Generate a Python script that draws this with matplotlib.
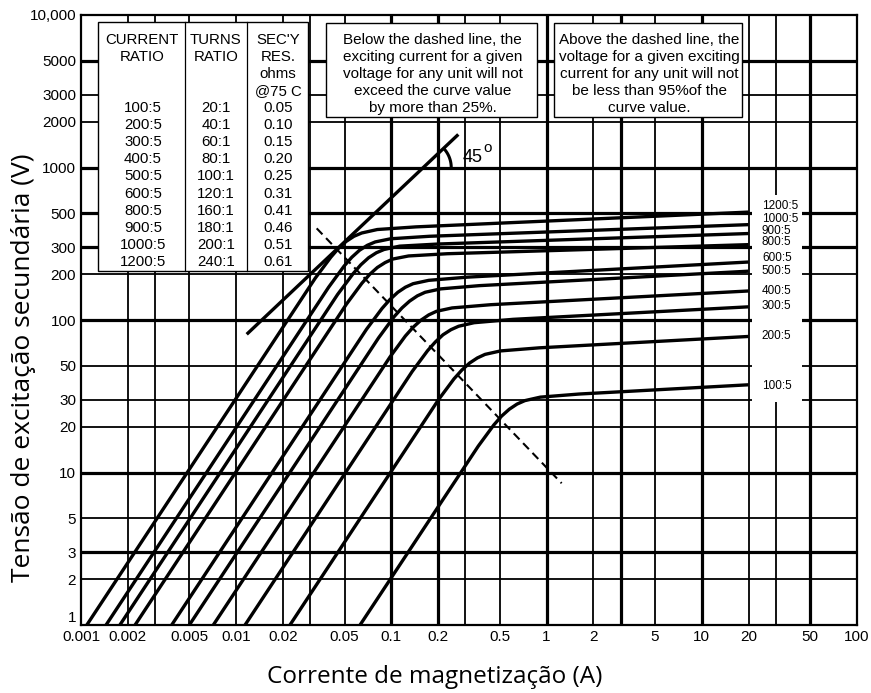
import numpy as np
import matplotlib
matplotlib.use('Agg')
import matplotlib.pyplot as plt
from matplotlib.patches import Rectangle

plt.rcParams['font.family'] = ['Liberation Sans', 'DejaVu Sans']

#%% curve values (current A, voltage V)
ratios = ['1200:5', '1000:5', '900:5', '800:5', '600:5',
          '500:5', '400:5', '300:5', '200:5', '100:5']

i_1200 = [0.00109, 0.0323, 0.0407, 0.0456, 0.0512, 0.0574, 0.0644, 0.0811, 0.144, 20]
v_1200 = [1, 188, 258, 295, 328, 354, 372, 392, 408, 510]
i_1000 = [0.00145, 0.0394, 0.0496, 0.0556, 0.0624, 0.0700, 0.0786, 0.0990, 0.176, 20]
v_1000 = [1, 164, 226, 258, 287, 309, 325, 341, 354, 422]
i_900 = [0.00178, 0.0450, 0.0566, 0.0635, 0.0713, 0.0800, 0.0897, 0.113, 0.201, 20]
v_900 = [1, 147, 201, 230, 256, 276, 290, 305, 315, 369]
i_800 = [0.00223, 0.0513, 0.0645, 0.0724, 0.0812, 0.0911, 0.102, 0.129, 0.229, 20]
v_800 = [1, 127, 174, 199, 221, 238, 251, 263, 272, 312]
i_600 = [0.00384, 0.0691, 0.0870, 0.0977, 0.110, 0.123, 0.138, 0.174, 0.309, 20]
v_600 = [1, 86.9, 119, 136, 152, 164, 173, 182, 191, 240]
i_500 = [0.00499, 0.0827, 0.104, 0.117, 0.131, 0.147, 0.165, 0.208, 0.369, 20]
v_500 = [1, 76.4, 105, 120, 133, 144, 152, 160, 168, 209]
i_400 = [0.00712, 0.0979, 0.123, 0.138, 0.155, 0.174, 0.195, 0.246, 0.437, 20]
v_400 = [1, 57.2, 78.5, 89.6, 99.7, 108, 114, 120, 126, 155]
i_300 = [0.0114, 0.136, 0.171, 0.192, 0.215, 0.242, 0.271, 0.341, 0.607, 20]
v_300 = [1, 45.9, 62.9, 71.8, 80.0, 86.4, 91.0, 96.0, 101, 122]
i_200 = [0.0222, 0.201, 0.253, 0.284, 0.319, 0.358, 0.401, 0.505, 0.898, 20]
v_200 = [1, 30.0, 41.1, 46.9, 52.2, 56.4, 59.5, 62.7, 65.7, 78]
i_100 = [0.0628, 0.363, 0.457, 0.512, 0.575, 0.645, 0.724, 0.911, 1.62, 20]
v_100 = [1, 14.9, 20.5, 23.4, 26.0, 28.1, 29.6, 31.2, 32.7, 37.6]

curves_i = [i_1200, i_1000, i_900, i_800, i_600, i_500, i_400, i_300, i_200, i_100]
curves_v = [v_1200, v_1000, v_900, v_800, v_600, v_500, v_400, v_300, v_200, v_100]
label_v = [560, 460, 385, 325, 255, 210, 155, 124, 79, 37]   # where the ratio labels sit

line45_i = [0.0119, 0.265]
line45_v = [82, 1619]
dash_i = [0.033, 1.25]
dash_v = [399, 8.5]

#%% axis ticks / grid
x_ticks = [0.001, 0.002, 0.005, 0.01, 0.02, 0.05, 0.1, 0.2, 0.5, 1, 2, 5, 10, 20, 50, 100]
x_labels = ['0.001', '0.002', '0.005', '0.01', '0.02', '0.05', '0.1', '0.2', '0.5',
            '1', '2', '5', '10', '20', '50', '100']
y_ticks = [1, 2, 3, 5, 10, 20, 30, 50, 100, 200, 300, 500, 1000, 2000, 3000, 5000, 10000]
y_labels = ['1', '2', '3', '5', '10', '20', '30', '50', '100', '200', '300', '500',
            '1000', '2000', '3000', '5000', '10,000']
x_grid = [0.002, 0.003, 0.005, 0.01, 0.02, 0.03, 0.05, 0.1, 0.2, 0.3, 0.5,
          1, 2, 3, 5, 10, 20, 30, 50]
x_thick = [0.1, 0.2, 1, 3, 10, 50]
y_grid = [2, 3, 5, 10, 20, 30, 50, 100, 200, 300, 500, 1000, 2000, 3000, 5000]
y_thick = [3, 10, 100, 300, 500, 1000, 5000]

#%% table text
tab_current = ['100:5', '200:5', '300:5', '400:5', '500:5', '600:5', '800:5', '900:5', '1000:5', '1200:5']
tab_turns = ['20:1', '40:1', '60:1', '80:1', '100:1', '120:1', '160:1', '180:1', '200:1', '240:1']
tab_res = ['0.05', '0.10', '0.15', '0.20', '0.25', '0.31', '0.41', '0.46', '0.51', '0.61']

note_below = ['Below the dashed line, the', 'exciting current for a given',
              'voltage for any unit will not', 'exceed the curve value', 'by more than 25%.']
note_above = ['Above the dashed line, the', 'voltage for a given exciting',
              'current for any unit will not', 'be less than 95%of the', 'curve value.']

#%% figure
W, H = 871, 693
fig = plt.figure(figsize=(W / 100, H / 100), dpi=100)
AX_L, AX_R, AX_T, AX_B = 81, 857, 15, 625
ax = fig.add_axes([AX_L / W, 1 - AX_B / H, (AX_R - AX_L) / W, (AX_B - AX_T) / H])
ax.set_xscale('log')
ax.set_yscale('log')
ax.set_xlim(0.001, 100)
ax.set_ylim(1, 10000)


def axf(px, py):
    # pixel position of the picture -> axes fraction
    return (px - AX_L) / (AX_R - AX_L), (AX_B - py) / (AX_B - AX_T)


for xv in x_grid:
    ax.axvline(xv, color='black', lw=2.3 if xv in x_thick else 1.3, zorder=1)
for yv in y_grid:
    ax.axhline(yv, color='black', lw=2.3 if yv in y_thick else 1.3, zorder=1)

ax.set_xticks(x_ticks)
ax.set_xticklabels(x_labels)
ax.set_yticks(y_ticks)
ax.set_yticklabels(y_labels)
ax.xaxis.set_minor_locator(matplotlib.ticker.NullLocator())
ax.yaxis.set_minor_locator(matplotlib.ticker.NullLocator())
ax.tick_params(length=0, labelsize=11, pad=3.5)
ax.get_yticklabels()[0].set_va('bottom')   # "1" sits a bit above the corner
for sp in ax.spines.values():
    sp.set_linewidth(1.6)

# excitation curves
for ci, cv in zip(curves_i, curves_v):
    ax.plot(ci, cv, color='black', lw=2.4, solid_capstyle='butt', zorder=2)

ax.plot(line45_i, line45_v, color='black', lw=2.4, zorder=2)
ax.plot(dash_i, dash_v, color='black', lw=1.5, dashes=(4, 2.5), zorder=2)

# 45 deg arc + text
t = np.radians(np.linspace(0, 40, 30))
ax.plot(10 ** (-0.795 + 28 / 155.2 * np.cos(t)), 10 ** (3 + 28 / 152.5 * np.sin(t)),
        color='black', lw=2.2, zorder=2)
ax.text(*axf(463, 157), '45', transform=ax.transAxes, fontsize=13, va='center', ha='left')
ax.text(*axf(483.5, 148), 'o', transform=ax.transAxes, fontsize=11, va='center', ha='left')

# ratio labels on white strip
x0, y0 = axf(752, 402)
x1, y1 = axf(802, 195)
ax.add_patch(Rectangle((x0, y0), x1 - x0, y1 - y0, transform=ax.transAxes,
                       facecolor='white', edgecolor='none', zorder=3))
for name, lv in zip(ratios, label_v):
    ax.text(24.4, lv, name, fontsize=8.5, va='center', ha='left', zorder=4)

# table box
x0, y0 = axf(97.7, 271)
x1, y1 = axf(308, 22)
ax.add_patch(Rectangle((x0, y0), x1 - x0, y1 - y0, transform=ax.transAxes,
                       facecolor='white', edgecolor='black', lw=1.0, zorder=3))
for cx in [185, 247]:
    ax.plot([axf(cx, 0)[0]] * 2, [y0, y1], transform=ax.transAxes, color='black', lw=0.9, zorder=4)
heads = [(142, ['CURRENT', 'RATIO']), (216, ['TURNS', 'RATIO']),
         (278, ["SEC'Y", 'RES.', 'ohms', '@75 C'])]
for cx, lines in heads:
    for k, s in enumerate(lines):
        ax.text(*axf(cx, 40.5 + 16.8 * k), s, transform=ax.transAxes, fontsize=10.8,
                ha='center', va='center', zorder=5)
for k in range(len(tab_current)):
    py = 108.3 + 17.04 * k
    for cx, col in [(143, tab_current), (216, tab_turns), (278, tab_res)]:
        ax.text(*axf(cx, py), col[k], transform=ax.transAxes, fontsize=10.8,
                ha='center', va='center', zorder=5)

# note boxes
for (bx0, bx1), note in [((326, 537), note_below), ((554, 742), note_above)]:
    x0, y0 = axf(bx0, 117)
    x1, y1 = axf(bx1, 23)
    ax.add_patch(Rectangle((x0, y0), x1 - x0, y1 - y0, transform=ax.transAxes,
                           facecolor='white', edgecolor='black', lw=1.0, zorder=3))
    for k, s in enumerate(note):
        ax.text(*axf((bx0 + bx1) / 2 + 1, 39.5 + 17.2 * k), s, transform=ax.transAxes,
                fontsize=11, ha='center', va='center', zorder=5)

fig.text(435 / W, 1 - 677 / H, 'Corrente de magnetização (A)', fontsize=17.5,
         family=['Open Sans', 'DejaVu Sans'], ha='center', va='center')
fig.text(24 / W, 1 - 368 / H, 'Tensão de excitação secundária (V)', fontsize=19,
         family=['Open Sans', 'DejaVu Sans'], ha='center', va='center', rotation=90)

fig.savefig('out.png', dpi=100)
